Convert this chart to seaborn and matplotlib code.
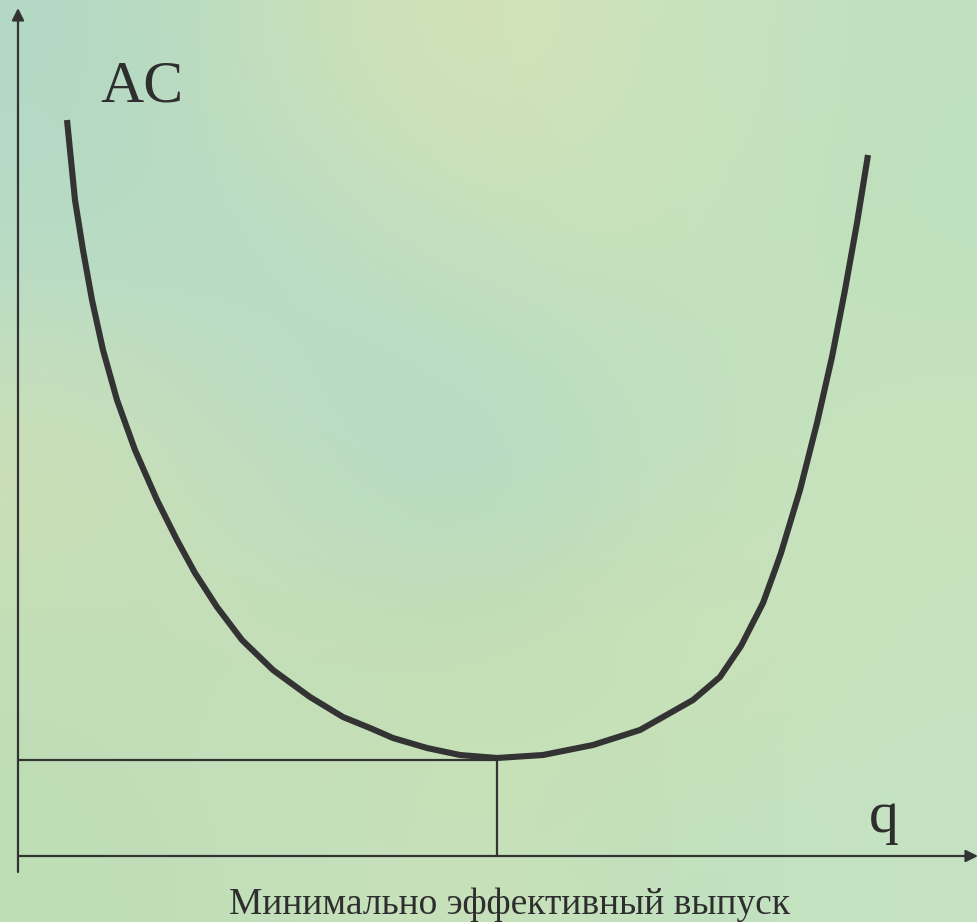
import numpy as np
import pandas as pd
import matplotlib.pyplot as plt
import seaborn as sns

sns.set_style("white")
plt.rcParams['font.family'] = ['Liberation Serif', 'DejaVu Serif']

# AC curve (q, AC), origin at the axes corner
q_vals = [49, 57, 65, 74, 85, 99, 117, 139, 159, 177, 199, 224, 255, 292, 325, 352,
          375, 409, 442, 479, 525, 575, 622, 645, 675, 702, 723, 745, 757, 763,
          782, 799, 814, 827, 839, 850]
ac_vals = [736, 656, 606, 556, 506, 456, 406, 356, 316, 283, 249, 216, 186, 159, 139, 128,
           118, 108, 101, 98, 101, 111, 126, 139, 156, 179, 210, 253, 286, 303,
           366, 433, 499, 566, 633, 701]

q_min = 479      # minimum efficient scale
ac_min = 96
curve_label = "AC"
x_label = "q"
bottom_label = "Минимально эффективный выпуск"

df = pd.DataFrame({"q": q_vals, "AC": ac_vals})

fig = plt.figure(figsize=(9.78, 9.22), dpi=100)
ax = fig.add_axes([0, 0, 1, 1])
ax.set_xlim(-18, 960)
ax.set_ylim(-66, 856)

# soft green background standing in for the stone texture
bg = np.array([
    [[178, 216, 196], [198, 224, 188], [214, 226, 180], [200, 228, 192], [192, 224, 190]],
    [[184, 220, 198], [182, 218, 198], [194, 224, 190], [198, 226, 188], [190, 224, 188]],
    [[208, 224, 180], [188, 220, 196], [178, 216, 200], [192, 224, 190], [202, 228, 190]],
    [[192, 222, 184], [198, 224, 182], [196, 222, 176], [206, 226, 180], [196, 226, 190]],
    [[190, 222, 182], [194, 224, 188], [202, 226, 186], [190, 224, 190], [198, 228, 196]],
], dtype=float) / 255
ax.imshow(bg, extent=[-18, 960, -66, 856], aspect='auto', interpolation='bicubic', zorder=0)

line_color = "#333333"

sns.lineplot(data=df, x="q", y="AC", sort=False, color=line_color, lw=4.4, ax=ax,
             zorder=3, solid_joinstyle="round", solid_capstyle="butt")

# axes with arrows
ax.annotate("", xy=(0, 848), xytext=(0, -16),
            arrowprops=dict(arrowstyle='-|>', lw=1.6, color=line_color, mutation_scale=18,
                            shrinkA=0, shrinkB=0), zorder=2)
ax.annotate("", xy=(960, 0), xytext=(0, 0),
            arrowprops=dict(arrowstyle='-|>', lw=1.6, color=line_color, mutation_scale=18,
                            shrinkA=0, shrinkB=0), zorder=2)

# guide lines to the minimum
ax.plot([0, q_min], [ac_min, ac_min], color=line_color, lw=1.6, zorder=2)
ax.plot([q_min, q_min], [0, ac_min], color=line_color, lw=1.6, zorder=2)

ax.text(82, 768, curve_label, fontsize=43, color="#2e2e2e", ha="left", va="center")
ax.text(866, 38, x_label, fontsize=43, color="#2e2e2e", ha="center", va="center")
ax.text(492, -49, bottom_label, fontsize=27, color="#2e2e2e", ha="center", va="center")

ax.axis("off")
fig.savefig("out.png", dpi=100)
